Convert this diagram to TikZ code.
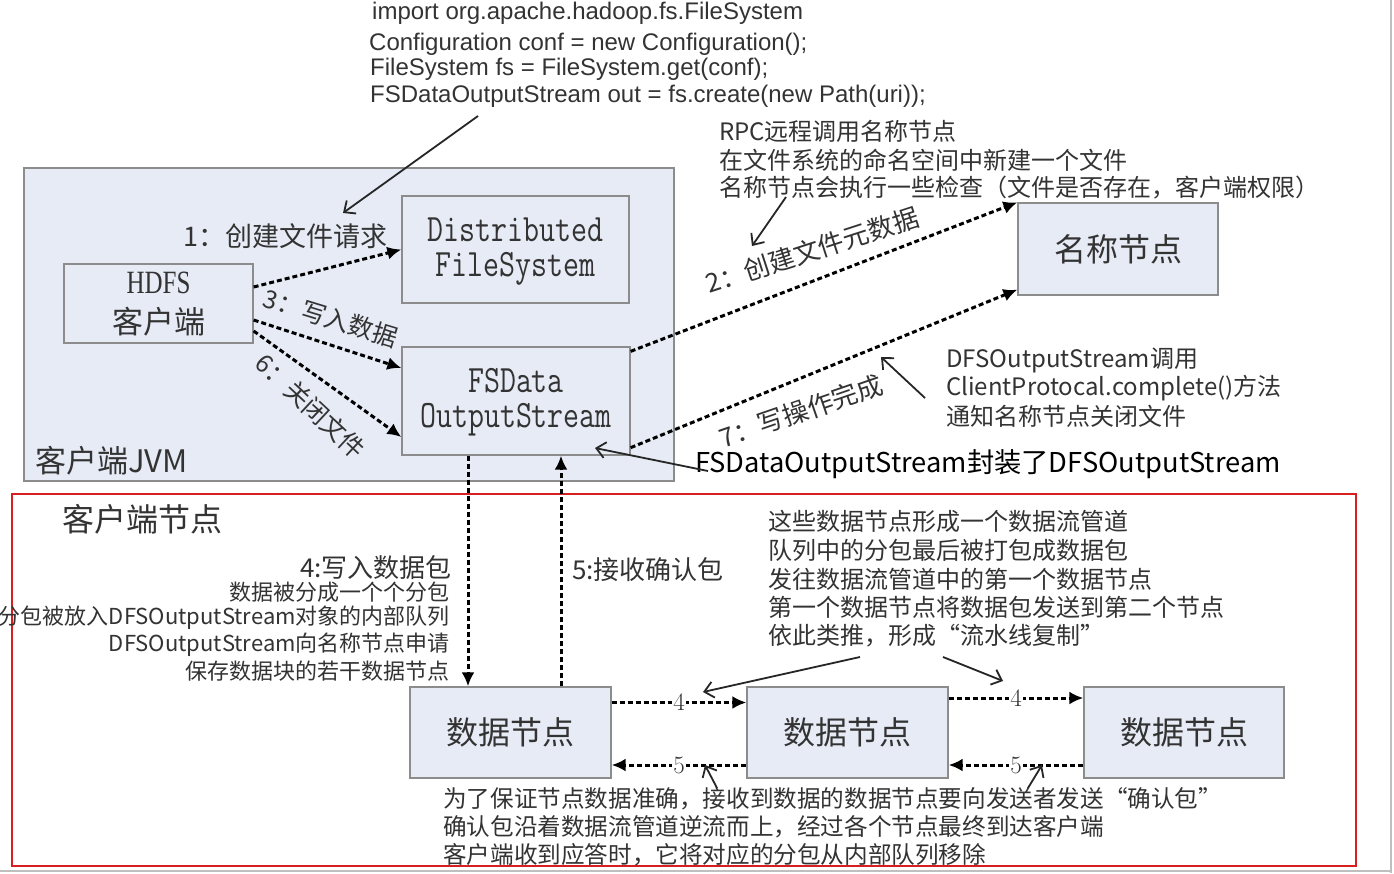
\documentclass[tikz,border=0pt]{standalone}
\usepackage{fontspec}
\newfontfamily\cjk{Noto Sans CJK SC}
\newfontfamily\lsans{Liberation Sans}
\newfontfamily\lserif{Liberation Serif}
\usetikzlibrary{arrows.meta,calc}
\newcommand\myfs[1]{\fontsize{#1}{#1}\selectfont}
\definecolor{boxfill}{HTML}{E6EBF5}
\definecolor{boxline}{HTML}{8C8C8C}
\definecolor{txt}{HTML}{333333}
\definecolor{redline}{HTML}{D81E1E}
\tikzset{
  box/.style={draw=boxline, fill=boxfill, line width=1.3pt, inner sep=0pt},
  lbl/.style={text=txt, inner sep=0pt},
  dasharrow/.style={draw=black, line width=3pt, dash pattern=on 5pt off 3pt, -{Latex[length=14pt,width=13pt]}},
  annarrow/.style={draw=black!85, line width=1.8pt, -{Straight Barb[length=9pt,width=16pt]}},
  numlbl/.style={fill=white, text=txt, inner sep=1.5pt, font=\myfs{25}}
}
\begin{document}
\begin{tikzpicture}[x=1pt,y=-1pt]
\useasboundingbox (0,0) rectangle (1394,873);
\fill[white] (0,0) rectangle (1394,873);
\draw[black!25, line width=1.5pt] (1391,0) -- (1391,873);
\draw[black!25, line width=1.5pt] (0,871) -- (1391,871);

% boxes
\node[box, minimum width=650pt, minimum height=313pt] (jvm) at (349,324.5) {};
\node[box, minimum width=189pt, minimum height=79pt] (hdfs) at (158.5,303.5) {};
\node[box, minimum width=227pt, minimum height=107pt] (dfs) at (515.5,249.5) {};
\node[box, minimum width=228pt, minimum height=108pt] (fsd) at (516,401) {};
\node[box, minimum width=200pt, minimum height=92pt] (nn) at (1118,249) {};
\node[draw=redline, line width=1.6pt, minimum width=1344pt, minimum height=372pt, inner sep=0pt] (red) at (684,680) {};
\node[box, minimum width=201pt, minimum height=91pt] (dn1) at (510.5,732.5) {};
\node[box, minimum width=201pt, minimum height=91pt] (dn2) at (847.5,732.5) {};
\node[box, minimum width=200pt, minimum height=91pt] (dn3) at (1184,732.5) {};

% box texts
\node[lbl] (hdfsA) at ([yshift=21pt]hdfs.center) {\scalebox{1}[1.3]{\lserif\myfs{25}HDFS}};
\node[lbl] (hdfsB) at ([yshift=-18pt]hdfs.center) {\cjk\myfs{31}客户端};
\node[lbl] (dfsA) at ([yshift=20pt]dfs.center) {\scalebox{1}[1.25]{\ttfamily\myfs{31}Distributed}};
\node[lbl] (dfsB) at ([yshift=-19pt]dfs.center) {\scalebox{1}[1.25]{\ttfamily\myfs{31}FileSystem}};
\node[lbl] (fsdA) at ([yshift=20pt]fsd.center) {\scalebox{1}[1.25]{\ttfamily\myfs{31}FSData}};
\node[lbl] (fsdB) at ([yshift=-19pt]fsd.center) {\scalebox{1}[1.25]{\ttfamily\myfs{31}OutputStream}};
\node[lbl] (nnT) at (nn.center) {\cjk\myfs{32}名称节点};
\node[lbl] (dn1T) at (dn1.center) {\cjk\myfs{32}数据节点};
\node[lbl] (dn2T) at (dn2.center) {\cjk\myfs{32}数据节点};
\node[lbl] (dn3T) at (dn3.center) {\cjk\myfs{32}数据节点};
\node[lbl, anchor=west] (jvmT) at (35,461) {\cjk\myfs{31}客户端JVM};
\node[lbl, anchor=west] (redT) at (62,519) {\cjk\myfs{32}客户端节点};

% code
\node[lbl, anchor=base west] (code1) at (372,19) {\lsans\myfs{24}import org.apache.hadoop.fs.FileSystem};
\node[lbl, anchor=base west] (code2) at (369,50) {\lsans\myfs{24}Configuration conf = new Configuration();};
\node[lbl, anchor=base west] (code3) at (370,75) {\lsans\myfs{24}FileSystem fs = FileSystem.get(conf);};
\node[lbl, anchor=base west] (code4) at (370,102) {\lsans\myfs{24}FSDataOutputStream out = fs.create(new Path(uri));};

% RPC annotation
\node[lbl, anchor=west] (rpc1) at (719,131) {\cjk\myfs{24}RPC远程调用名称节点};
\node[lbl, anchor=west] (rpc2) at (719,160) {\cjk\myfs{24}在文件系统的命名空间中新建一个文件};
\node[lbl, anchor=west] (rpc3) at (719,188) {\cjk\myfs{24}名称节点会执行一些检查（文件是否存在，客户端权限）};

% complete annotation
\node[lbl, anchor=west] (cp1) at (946,360) {\cjk\myfs{24}DFSOutputStream调用};
\node[lbl, anchor=west] (cp2) at (946,388) {\cjk\myfs{24}ClientProtocal.complete()方法};
\node[lbl, anchor=west] (cp3) at (946,416) {\cjk\myfs{24}通知名称节点关闭文件};
\node[inner sep=0pt, text=black, anchor=west] (wrap) at (695,464) {\cjk\myfs{27.3}FSDataOutputStream封装了DFSOutputStream};

% step labels
\node[lbl, anchor=east] (l1) at (388,236) {\cjk\myfs{27}1：创建文件请求};
\node[lbl, rotate=-17] (l3) at (331,318) {\cjk\myfs{25}3：写入数据};
\node[lbl, rotate=-43] (l6) at (311,406) {\cjk\myfs{25}6：关闭文件};
\node[lbl, rotate=18] (l2) at (812,250) {\cjk\myfs{26}2：创建文件元数据};
\node[lbl, rotate=19] (l7) at (801,411) {\cjk\myfs{26}7：写操作完成};

% bottom-left annotation
\node[lbl, anchor=east] (w4) at (452,568) {\cjk\myfs{26}4:写入数据包};
\node[lbl, anchor=east] (wa) at (450,592) {\cjk\myfs{22}数据被分成一个个分包};
\node[lbl, anchor=east] (wb) at (450,618) {\cjk\myfs{22}分包被放入DFSOutputStream对象的内部队列};
\node[lbl, anchor=east] (wc) at (450,645) {\cjk\myfs{22}DFSOutputStream向名称节点申请};
\node[lbl, anchor=east] (wd) at (450,671) {\cjk\myfs{22}保存数据块的若干数据节点};
\node[lbl, anchor=west] (r5) at (572,570) {\cjk\myfs{26}5:接收确认包};

% pipeline annotation
\node[lbl, anchor=west] (p1) at (768,521) {\cjk\myfs{24}这些数据节点形成一个数据流管道};
\node[lbl, anchor=west] (p2) at (768,550) {\cjk\myfs{24}队列中的分包最后被打包成数据包};
\node[lbl, anchor=west] (p3) at (768,579) {\cjk\myfs{24}发往数据流管道中的第一个数据节点};
\node[lbl, anchor=west] (p4) at (768,607) {\cjk\myfs{24}第一个数据节点将数据包发送到第二个节点};
\node[lbl, anchor=west] (p5) at (768,636) {\cjk\myfs{24}依此类推，形成“流水线复制”};

% ack annotation
\node[lbl, anchor=west] (a1) at (443,799) {\cjk\myfs{23.6}为了保证节点数据准确，接收到数据的数据节点要向发送者发送“确认包”};
\node[lbl, anchor=west] (a2) at (443,827) {\cjk\myfs{23.6}确认包沿着数据流管道逆流而上，经过各个节点最终到达客户端};
\node[lbl, anchor=west] (a3) at (443,855) {\cjk\myfs{23.6}客户端收到应答时，它将对应的分包从内部队列移除};

% dashed connectors
\draw[dasharrow] ([yshift=16.5pt]hdfs.east) -- (dfs.west);
\draw[dasharrow] ([yshift=-16.5pt]hdfs.east) -- ([yshift=33pt]fsd.west);
\draw[dasharrow] ([yshift=-27.5pt]hdfs.east) -- ([yshift=-36pt]fsd.west);
\draw[dasharrow] ([yshift=-5pt]fsd.north east) -- (nn.north west);
\draw[dasharrow] ([yshift=8pt]fsd.south east) -- ([yshift=6pt]nn.south west);
\draw[dasharrow] ([xshift=-48pt]fsd.south) -- ([xshift=-42.5pt]dn1.north);
\draw[dasharrow] ([xshift=50.5pt]dn1.north) -- ([xshift=45pt]fsd.south);
\draw[dasharrow] ([yshift=30pt]dn1.east) -- node[numlbl]{4} ([yshift=30pt]dn2.west);
\draw[dasharrow] ([yshift=34.5pt]dn2.east) -- node[numlbl]{4} ([yshift=34.5pt]dn3.west);
\draw[dasharrow] ([yshift=-32.5pt]dn2.west) -- node[numlbl]{5} ([yshift=-32.5pt]dn1.east);
\draw[dasharrow] ([yshift=-32.5pt]dn3.west) -- node[numlbl]{5} ([yshift=-32.5pt]dn2.east);

% annotation arrows
\coordinate (c1) at (478,116);
\coordinate (c1t) at (343,213);
\draw[annarrow] (c1) -- (c1t);
\coordinate (c2) at (786,197);
\coordinate (c2t) at (752,246);
\draw[annarrow] (c2) -- (c2t);
\coordinate (c3) at (925,398);
\coordinate (c3t) at (881,357);
\draw[annarrow] (c3) -- (c3t);
\coordinate (c4) at (708,471);
\coordinate (c4t) at (595,448);
\draw[annarrow] (c4) -- (c4t);
\coordinate (c5) at (860,657);
\coordinate (c5t) at (703,692);
\draw[annarrow] (c5) -- (c5t);
\coordinate (c6) at (943,657);
\coordinate (c6t) at (1003,681);
\draw[annarrow] (c6) -- (c6t);
\coordinate (c7) at (717,788);
\coordinate (c7t) at (705,765);
\draw[annarrow] (c7) -- (c7t);
\coordinate (c8) at (1028,788);
\coordinate (c8t) at (1042,765);
\draw[annarrow] (c8) -- (c8t);
\end{tikzpicture}
\end{document}
